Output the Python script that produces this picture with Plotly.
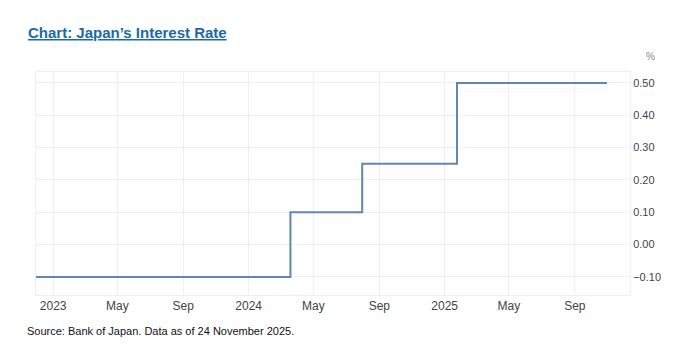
import plotly.graph_objects as go

# Data: BoJ policy rate steps (date of change, rate %)
dates = ["2022-11-30", "2024-03-19", "2024-07-31", "2025-01-24", "2025-10-31"]
rates = [-0.10, 0.10, 0.25, 0.50, 0.50]

x_tick_vals = ["2023-01-01", "2023-05-01", "2023-09-01", "2024-01-01", "2024-05-01",
               "2024-09-01", "2025-01-01", "2025-05-01", "2025-09-01"]
x_tick_text = ["2023", "May", "Sep", "2024", "May", "Sep", "2025", "May", "Sep"]
y_tick_vals = [-0.10, 0.00, 0.10, 0.20, 0.30, 0.40, 0.50]

FONT = "Arial, Liberation Sans, sans-serif"
GRID = "#efefef"

# page body has an 8px margin, so the figure is 8px smaller and offsets shifted
OFF = 8
W, H = 677 - OFF, 357 - OFF
L, R, T, B = 36 - OFF, 47, 72 - OFF, 62
PW, PH = W - L - R, H - T - B


def px_x(x_abs):
    return (x_abs - 36) / PW


def px_y(y_abs):
    return (357 - B - y_abs) / PH


fig = go.Figure()
fig.add_trace(go.Scatter(
    x=dates, y=rates, mode="lines", line_shape="hv",
    line=dict(color="#5f86b7", width=2), hoverinfo="skip", showlegend=False,
))

fig.update_layout(
    width=W, height=H,
    margin=dict(l=L, r=R, t=T, b=B, pad=0),
    paper_bgcolor="white", plot_bgcolor="white",
    font=dict(family=FONT, size=11, color="#444"),
    xaxis=dict(
        type="date", range=["2022-11-30", "2025-12-13"],
        tickvals=x_tick_vals, ticktext=x_tick_text,
        showgrid=True, gridcolor=GRID, gridwidth=1,
        showline=True, linecolor=GRID, mirror=True,
        zeroline=False, ticks="", tickfont=dict(size=12, color="#444"),
    ),
    yaxis=dict(
        side="right", range=[-0.156, 0.534],
        tickvals=y_tick_vals, tickformat=".2f",
        showgrid=True, gridcolor=GRID, gridwidth=1,
        showline=True, linecolor=GRID, mirror=True,
        zeroline=False, ticks="", tickfont=dict(size=11, color="#444"),
    ),
    annotations=[
        dict(text="<u><b>Chart: Japan’s Interest Rate</b></u>", xref="paper", yref="paper",
             x=px_x(26), y=px_y(33), xanchor="left", yanchor="middle",
             showarrow=False, font=dict(family=FONT, size=15, color="#1a6aa8")),
        dict(text="%", xref="paper", yref="paper",
             x=px_x(651), y=px_y(56), xanchor="center", yanchor="middle",
             showarrow=False, font=dict(family=FONT, size=10, color="#888")),
        dict(text="Source: Bank of Japan. Data as of 24 November 2025.", xref="paper", yref="paper",
             x=px_x(25), y=px_y(331), xanchor="left", yanchor="middle",
             showarrow=False, font=dict(family=FONT, size=11, color="#111")),
    ],
)

fig.write_html("out.html")
